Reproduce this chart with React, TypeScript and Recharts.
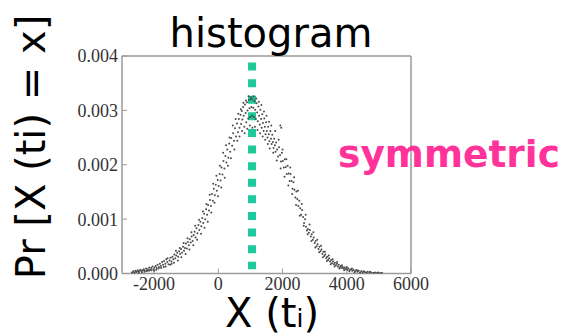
import React from 'react';
import { ScatterChart, Scatter, XAxis, YAxis, ReferenceLine } from 'recharts';

const leftTail: [number, number][] = [
  [-2690, 0.00002], [-2650, 0.00004], [-2610, 0.00002], [-2580, 0.00005], [-2540, 0.00003], [-2510, 0.00006],
  [-2480, 0.00003], [-2450, 0.00005], [-2420, 0.00007], [-2390, 0.00004], [-2350, 0.00006], [-2320, 0.00008],
  [-2290, 0.00005], [-2250, 0.00009], [-2220, 0.00006], [-2190, 0.00008], [-2150, 0.00011], [-2120, 0.00007],
  [-2090, 0.0001], [-2050, 0.00013], [-2020, 0.00008], [-1990, 0.00011], [-1950, 0.00014], [-1920, 0.0001],
  [-1890, 0.00016], [-1850, 0.00012], [-1820, 0.00018], [-1790, 0.00014], [-1750, 0.00021], [-1720, 0.00016],
  [-1690, 0.00023], [-1650, 0.00018], [-1620, 0.00026], [-1590, 0.00021], [-1550, 0.00017], [-1520, 0.00024],
  [-2620, 0.00001], [-2560, 0.00003], [-2470, 0.00001], [-2380, 0.00002], [-2300, 0.00003], [-2230, 0.00004],
  [-2160, 0.00005], [-2080, 0.00006], [-2000, 0.00005], [-1930, 0.00007], [-1860, 0.00009], [-1780, 0.0001],
  [-1700, 0.00012], [-1640, 0.00013], [-1580, 0.00028], [-1500, 0.00016],
];

const leftSlope: [number, number][] = [
  [-1490, 0.00029], [-1460, 0.00022], [-1430, 0.00031], [-1400, 0.00026], [-1370, 0.00035], [-1340, 0.00028],
  [-1310, 0.00033], [-1280, 0.00038], [-1250, 0.00031], [-1220, 0.00041], [-1190, 0.00036], [-1160, 0.00045],
  [-1130, 0.00038], [-1100, 0.00049], [-1070, 0.00042], [-1040, 0.00047], [-1010, 0.00055], [-980, 0.00046],
  [-950, 0.00058], [-920, 0.00052], [-890, 0.00063], [-860, 0.00057], [-830, 0.00068], [-800, 0.0006],
  [-770, 0.00071], [-740, 0.00077], [-710, 0.00066], [-680, 0.00083], [-650, 0.00074], [-620, 0.00089],
  [-590, 0.0008], [-560, 0.00095], [-530, 0.00087], [-500, 0.00102], [-470, 0.00093], [-440, 0.0011],
  [-410, 0.001], [-380, 0.00118], [-350, 0.00108], [-320, 0.00126], [-290, 0.00116], [-260, 0.00135],
  [-230, 0.00124], [-200, 0.00146], [-170, 0.00134], [-140, 0.00156], [-110, 0.00144], [-80, 0.00163],
  [-50, 0.00152], [-20, 0.00172], [10, 0.00161], [40, 0.00183], [70, 0.00171], [100, 0.00195],
  [130, 0.00182], [160, 0.00207], [190, 0.00193], [220, 0.00216], [250, 0.00204], [280, 0.00228],
  [310, 0.00213], [340, 0.00239], [370, 0.00224], [400, 0.00249], [430, 0.00235], [460, 0.00258],
  [490, 0.00244], [520, 0.00267], [550, 0.00252], [580, 0.00276], [610, 0.0026],
  [-1450, 0.00018], [-1380, 0.0002], [-1320, 0.00042], [-1260, 0.00024], [-1200, 0.00047], [-1150, 0.0003],
  [-1080, 0.00056], [-1020, 0.00036], [-960, 0.00065], [-900, 0.00044], [-840, 0.00076], [-780, 0.00052],
  [-720, 0.00088], [-660, 0.00062], [-600, 0.00099], [-540, 0.00073], [-480, 0.00114], [-430, 0.00084],
  [-370, 0.00128], [-330, 0.00095], [-270, 0.00145], [-220, 0.00112], [-160, 0.00165], [-120, 0.0013],
  [-60, 0.0018], [-10, 0.00142], [50, 0.00198], [90, 0.00158], [150, 0.00222], [200, 0.00176],
  [240, 0.00236], [300, 0.00198], [350, 0.0025], [390, 0.00212], [450, 0.00272], [500, 0.00228],
  [540, 0.00284], [590, 0.00244], [620, 0.00294],
];

const peak: [number, number][] = [
  [640, 0.00284], [660, 0.00268], [690, 0.00292], [710, 0.00275], [730, 0.00299], [750, 0.00283],
  [770, 0.00306], [790, 0.0029], [810, 0.0027], [830, 0.00311], [850, 0.00295], [870, 0.00278],
  [890, 0.00315], [910, 0.003], [930, 0.00285], [950, 0.00319], [970, 0.00304], [990, 0.00288],
  [1010, 0.00321], [1030, 0.00306], [1050, 0.0029], [1070, 0.0032], [1090, 0.00305], [1110, 0.00288],
  [1130, 0.00317], [1150, 0.00301], [1170, 0.00284], [1190, 0.00313], [1210, 0.00296], [1230, 0.0028],
  [1250, 0.00307], [1270, 0.0029], [1290, 0.00274], [1310, 0.00301], [1330, 0.00284], [1350, 0.00268],
  [1370, 0.00293], [1390, 0.00277], [1410, 0.00262], [1430, 0.00285], [1450, 0.0027], [1470, 0.00256],
  [1490, 0.00278], [1510, 0.00262], [1530, 0.0025], [1550, 0.0027], [1570, 0.00256], [1590, 0.00243],
  [660, 0.00252], [700, 0.00302], [740, 0.00262], [780, 0.00314], [820, 0.00258], [860, 0.00318],
  [900, 0.00266], [940, 0.00326], [980, 0.00272], [1020, 0.00324], [1060, 0.00268], [1100, 0.00326],
  [1140, 0.0027], [1180, 0.00322], [1220, 0.00264], [1260, 0.00316], [1300, 0.00258], [1340, 0.0031],
  [1380, 0.00252], [1420, 0.00298], [1460, 0.00246], [1500, 0.0029], [1540, 0.00238], [1580, 0.00279],
  [1600, 0.0023],
];

const rightSlope: [number, number][] = [
  [1620, 0.00262], [1640, 0.00248], [1660, 0.00238], [1680, 0.00255], [1700, 0.00242], [1720, 0.00231],
  [1740, 0.00248], [1760, 0.00236], [1780, 0.00224], [1800, 0.00241], [1830, 0.00228], [1860, 0.00215],
  [1890, 0.00232], [1920, 0.00218], [1930, 0.00272], [1950, 0.00206], [1960, 0.00268], [1980, 0.00222],
  [2010, 0.00207], [2040, 0.00195], [2070, 0.0021], [2100, 0.00196], [2130, 0.00183], [2160, 0.00198],
  [2190, 0.00184], [2220, 0.0017], [2250, 0.00183], [2280, 0.0017], [2310, 0.00156], [2340, 0.00168],
  [2370, 0.00154], [2400, 0.0014], [2430, 0.00151], [2460, 0.00137], [2490, 0.00124], [2520, 0.00134],
  [2550, 0.0012], [2580, 0.00108], [2610, 0.00117], [2640, 0.00104], [2670, 0.00093], [2700, 0.001],
  [2730, 0.00086], [2760, 0.00079], [2790, 0.00082], [2820, 0.00075], [2850, 0.0008], [2880, 0.00068],
  [2910, 0.00072], [2940, 0.00062], [2970, 0.00066], [3000, 0.00056], [3030, 0.0006], [3060, 0.0005],
  [3090, 0.00054], [3120, 0.00045], [3150, 0.00049], [3180, 0.00041], [3210, 0.00044], [3240, 0.00036],
  [3270, 0.0004], [3300, 0.00032], [3330, 0.00035], [3360, 0.00028], [3390, 0.00031], [3420, 0.00025],
  [3450, 0.00028], [3480, 0.00022], [3510, 0.00025], [3540, 0.00019], [3570, 0.00022],
  [1650, 0.00272], [1710, 0.00222], [1770, 0.00262], [1820, 0.00208], [1880, 0.00246], [1940, 0.00193],
  [2000, 0.00228], [2060, 0.00178], [2120, 0.0021], [2180, 0.00162], [2240, 0.00195], [2300, 0.00146],
  [2360, 0.00177], [2420, 0.00126], [2480, 0.00152], [2540, 0.00106], [2600, 0.00128], [2660, 0.00088],
  [2720, 0.00108], [2780, 0.00072], [2840, 0.0009], [2900, 0.0006], [2960, 0.00076], [3020, 0.00048],
  [3080, 0.00062], [3140, 0.00039], [3200, 0.00051], [3260, 0.0003], [3320, 0.0004], [3380, 0.00023],
  [3440, 0.00033], [3500, 0.00017], [3560, 0.00026],
];

const rightTail: [number, number][] = [
  [3600, 0.00017], [3630, 0.0002], [3660, 0.00015], [3690, 0.00018], [3720, 0.00013], [3750, 0.00016],
  [3780, 0.00011], [3810, 0.00014], [3840, 0.0001], [3870, 0.00012], [3900, 0.00009], [3930, 0.00011],
  [3960, 0.00008], [3990, 0.0001], [4020, 0.00007], [4050, 0.00009], [4090, 0.00006], [4130, 0.00008],
  [4170, 0.00005], [4210, 0.00007], [4250, 0.00004], [4290, 0.00006], [4330, 0.00003], [4370, 0.00005],
  [4410, 0.00002], [4450, 0.00004], [4500, 0.00002], [4550, 0.00003], [4600, 0.00002], [4650, 0.00003],
  [4700, 0.00001], [4760, 0.00002], [4820, 0.00001], [4880, 0.00002], [4940, 0.00001], [5000, 0.00001],
  [5060, 0.00001],
  [3620, 0.00013], [3700, 0.00021], [3770, 0.00009], [3850, 0.00015], [3920, 0.00006], [4000, 0.00012],
  [4080, 0.00004], [4160, 0.00009], [4240, 0.00002], [4320, 0.00006], [4420, 0.00001], [4520, 0.00004],
  [4620, 0.00001], [4720, 0.00003], [4850, 0.00001], [4980, 0.00002], [5100, 0.00001],
];

const xTicks = [-2000, 0, 2000, 4000, 6000];
const yTicks = [0, 0.001, 0.002, 0.003, 0.004];
const xDomain: [number, number] = [-3000, 6000];
const yDomain: [number, number] = [0, 0.004];
const meanX = 1050;
const meanLineTop = 0.00388;
const meanLineBottom = 0.00008;

const points = [...leftTail, ...leftSlope, ...peak, ...rightSlope, ...rightTail].map(([x, y]) => ({ x, y }));

const axisColor = '#9a9a9a';
const tickStyle = { fill: '#333', fontSize: 18, fontFamily: 'Liberation Serif' };

const Dot = (p: any) => <circle cx={p.cx} cy={p.cy} r={1} fill="#4a4a4a" />;

export default function App() {
  return (
    <div style={{ position: 'absolute', left: 0, top: 0, width: 564, height: 333, background: '#fff' }}>
      <ScatterChart width={564} height={333} margin={{ top: 55, right: 152, bottom: 0, left: 0 }}>
        <XAxis
          xAxisId="b"
          type="number"
          dataKey="x"
          domain={xDomain}
          ticks={xTicks}
          allowDataOverflow
          orientation="bottom"
          height={59.5}
          tickSize={-5}
          tickMargin={9}
          tick={tickStyle}
          axisLine={{ stroke: axisColor, strokeWidth: 1.5 }}
          tickLine={{ stroke: axisColor }}
          interval={0}
        />
        <XAxis
          xAxisId="t"
          type="number"
          dataKey="x"
          domain={xDomain}
          ticks={xTicks}
          allowDataOverflow
          orientation="top"
          height={1}
          tickSize={-5}
          tick={false}
          axisLine={{ stroke: axisColor, strokeWidth: 1.5 }}
          tickLine={{ stroke: axisColor }}
          interval={0}
        />
        <YAxis
          yAxisId="l"
          type="number"
          dataKey="y"
          domain={yDomain}
          ticks={yTicks}
          allowDataOverflow
          width={122}
          tickSize={-5}
          tickMargin={9}
          tick={tickStyle}
          tickFormatter={(v: number) => v.toFixed(3)}
          axisLine={{ stroke: axisColor, strokeWidth: 1.5 }}
          tickLine={{ stroke: axisColor }}
          interval={0}
        />
        <YAxis
          yAxisId="r"
          orientation="right"
          type="number"
          dataKey="y"
          domain={yDomain}
          ticks={yTicks}
          allowDataOverflow
          width={1}
          tickSize={-5}
          tick={false}
          axisLine={{ stroke: axisColor, strokeWidth: 1.5 }}
          tickLine={{ stroke: axisColor }}
          interval={0}
        />
        <Scatter xAxisId="b" yAxisId="l" data={points} isAnimationActive={false} shape={Dot} />
        <ReferenceLine
          xAxisId="b"
          yAxisId="l"
          segment={[{ x: meanX, y: meanLineTop }, { x: meanX, y: meanLineBottom }]}
          stroke="#1ec99b"
          strokeWidth={8}
          strokeDasharray="8 8.6"
        />
      </ScatterChart>
      <svg
        width={564}
        height={333}
        style={{ position: 'absolute', left: 0, top: 0, pointerEvents: 'none' }}
        fontFamily="DejaVu Sans"
      >
        <text x={271} y={47} textAnchor="middle" fontSize={40} fill="#000">histogram</text>
        <text transform="translate(45,147) rotate(-90)" textAnchor="middle" fontSize={40} fill="#000">
          Pr [X (ti) = x]
        </text>
        <text x={272} y={327} textAnchor="middle" fontSize={40} fill="#000">
          X (t<tspan fontSize={25}>i</tspan>)
        </text>
        <text x={449} y={167} textAnchor="middle" fontSize={37.5} fontWeight="bold" fill="#ff3399">
          symmetric
        </text>
      </svg>
    </div>
  );
}
